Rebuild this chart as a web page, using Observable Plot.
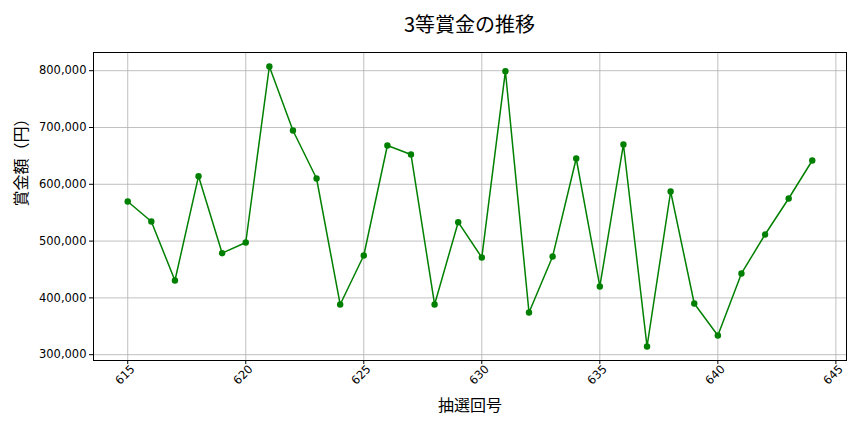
<!DOCTYPE html>
<html><head><meta charset="utf-8">
<script src="https://cdn.jsdelivr.net/npm/d3@7"></script>
<script src="https://cdn.jsdelivr.net/npm/@observablehq/plot@0.6"></script>
<style>
body{margin:0;background:#fff;font-family:"DejaVu Sans","Noto Sans CJK JP",sans-serif;}
#title{height:40px;line-height:48px;text-align:center;font-size:20px;font-family:"Noto Sans CJK JP",sans-serif;color:#000;padding-left:75px;}
</style></head><body>
<div id="title">3等賞金の推移</div>
<div id="chart"></div>
<script>
const draws = [615,616,617,618,619,620,621,622,623,624,625,626,627,628,629,630,631,632,633,634,635,636,637,638,639,640,641,642,643,644];
const prizes = [569700,534500,430600,614300,478700,497500,807400,694700,610200,388400,474600,668300,652500,388400,533300,471100,799100,374300,472900,645400,420100,670100,314400,587300,390100,333800,443000,511600,575000,641900];
const xTicks = [615,620,625,630,635,640,645];
const yTicks = [300000,400000,500000,600000,700000,800000];

const data = draws.map((d,i)=>({draw:d, prize:prizes[i]}));
const fmt = d3.format(",");

const plot = Plot.plot({
  width: 864,
  height: 392,
  marginTop: 12,
  marginBottom: 72,
  marginLeft: 93,
  marginRight: 18,
  style: {fontFamily: "DejaVu Sans, sans-serif", fontSize: "11px", color: "#000", background: "#fff"},
  x: {domain: [613.55, 645.45], label: null},
  y: {domain: [289750, 832050], label: null},
  marks: [
    Plot.gridX(xTicks, {stroke: "#b0b0b0", strokeOpacity: 1, strokeWidth: 0.8}),
    Plot.gridY(yTicks, {stroke: "#b0b0b0", strokeOpacity: 1, strokeWidth: 0.8}),
    Plot.axisY(yTicks, {tickFormat: fmt, tickSize: 4, tickPadding: 3, fontSize: 11.5, label: null}),
    Plot.axisX(xTicks, {tickSize: 4, tickFormat: () => "", label: null}),
    Plot.text(xTicks, {x: d=>d, text: d=>String(d), frameAnchor: "bottom", dy: 17, rotate: -45, textAnchor: "middle", fontSize: 11.5}),
    Plot.frame({stroke: "#000", strokeWidth: 1}),
    Plot.line(data, {x: "draw", y: "prize", stroke: "#008000", strokeWidth: 1.5}),
    Plot.dot(data, {x: "draw", y: "prize", fill: "#008000", r: 3.2}),
    Plot.text(["抽選回号"], {frameAnchor: "bottom", dy: 50, fontSize: 16, fontFamily: "Noto Sans CJK JP", text: d=>d}),
    Plot.text(["賞金額（円）"], {frameAnchor: "left", dx: -72, rotate: -90, fontSize: 16, fontFamily: "Noto Sans CJK JP", text: d=>d})
  ]
});
document.getElementById("chart").appendChild(plot);
</script>
</body></html>
